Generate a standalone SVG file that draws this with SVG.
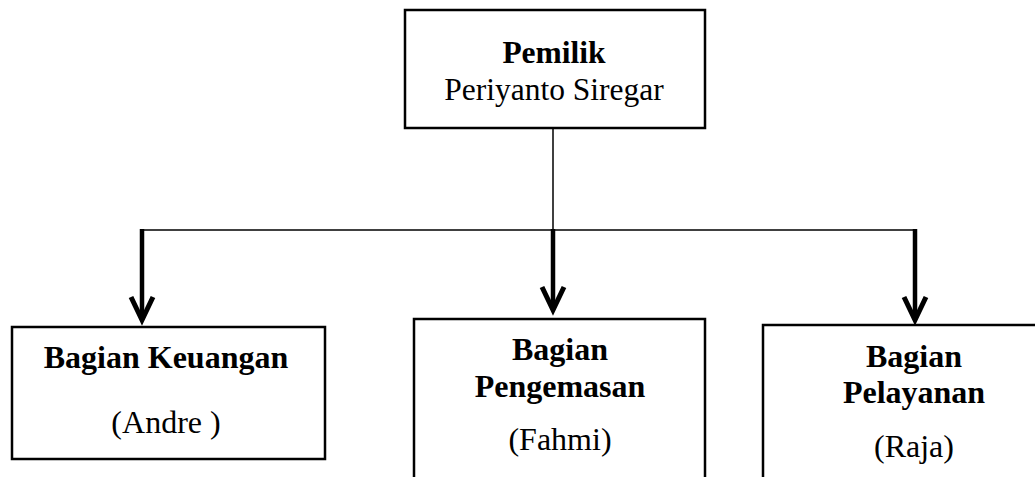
<svg xmlns="http://www.w3.org/2000/svg" width="1035" height="477" viewBox="0 0 1035 477">
<style>
.box{fill:#fff;stroke:#000;stroke-width:2.5}
.t{font-family:"Liberation Serif","Times New Roman",serif;font-size:32px;fill:#000;text-anchor:middle}
.top{font-size:31.5px}
.b{font-weight:bold}
.thin{stroke:#000;stroke-width:1.5;fill:none}
.arr{stroke:#000;stroke-width:4.5;fill:none}
.head{stroke:#000;stroke-width:5;fill:none;stroke-linejoin:miter}
</style>
<rect width="1035" height="477" fill="#fff"/>
<g id="connectors">
<line class="thin" x1="553" y1="129" x2="553" y2="230"/>
<line class="thin" x1="142" y1="230" x2="915" y2="230"/>
<line class="arr" x1="142" y1="229" x2="142" y2="320"/>
<polyline class="head" points="131,297 142,320 153,297"/>
<line class="arr" x1="553" y1="229" x2="553" y2="310"/>
<polyline class="head" points="542,287 553,310 564,287"/>
<line class="arr" x1="915" y1="229" x2="915" y2="320"/>
<polyline class="head" points="904,297 915,320 926,297"/>
</g>
<g id="pemilik">
<rect class="box" x="405" y="10" width="300" height="118"/>
<text class="t top b" x="554" y="63">Pemilik</text>
<text class="t top" x="554" y="100">Periyanto Siregar</text>
</g>
<g id="keuangan">
<rect class="box" x="12" y="327" width="313" height="132"/>
<text class="t b" x="166" y="368">Bagian Keuangan</text>
<text class="t" x="166" y="433">(Andre )</text>
</g>
<g id="pengemasan">
<rect class="box" x="414" y="319" width="291" height="170"/>
<text class="t b" x="560" y="360">Bagian</text>
<text class="t b" x="560" y="397">Pengemasan</text>
<text class="t" x="560" y="450">(Fahmi)</text>
</g>
<g id="pelayanan">
<rect class="box" x="763" y="325" width="290" height="170"/>
<text class="t b" x="914" y="367">Bagian</text>
<text class="t b" x="914" y="403">Pelayanan</text>
<text class="t" x="914" y="457">(Raja)</text>
</g>
</svg>
